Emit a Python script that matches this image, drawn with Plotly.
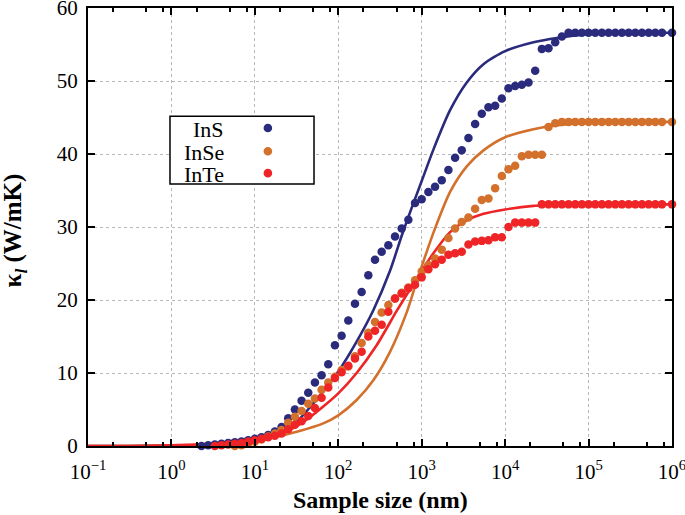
import plotly.graph_objects as go

# ---------------- data ----------------
# dot positions, log10(sample size / nm)
dot_log_size = [0.36, 0.44, 0.52, 0.60, 0.68, 0.76, 0.84, 0.92, 1.00, 1.08,
                1.16, 1.24, 1.32, 1.40, 1.48, 1.56, 1.64, 1.72, 1.80, 1.88,
                1.96, 2.04, 2.12, 2.20, 2.28, 2.36, 2.44, 2.52, 2.60, 2.68,
                2.76, 2.84, 2.92, 3.00, 3.08, 3.16, 3.24, 3.32, 3.40, 3.48,
                3.56, 3.64, 3.72, 3.80, 3.88, 3.96, 4.04, 4.12, 4.20, 4.28,
                4.36, 4.44, 4.52, 4.60, 4.68, 4.76, 4.84, 4.92, 5.00, 5.08,
                5.16, 5.24, 5.32, 5.40, 5.48, 5.56, 5.64, 5.72, 5.80, 5.88, 6.00]

ins_dots = [0.0, 0.1, 0.2, 0.3, 0.4, 0.5, 0.6, 0.8, 1.0, 1.2,
            1.5, 2.0, 2.6, 3.8, 5.0, 6.2, 7.3, 8.7, 9.7, 11.2,
            13.8, 15.1, 17.2, 19.5, 21.1, 23.4, 25.5, 26.6, 27.5, 28.7,
            29.8, 31.0, 33.3, 33.8, 34.8, 35.5, 36.4, 37.8, 39.5, 40.5,
            42.2, 44.1, 45.5, 46.4, 46.6, 47.6, 49.0, 49.3, 49.5, 49.8,
            51.4, 54.4, 54.5, 55.3, 56.1, 56.6, 56.6, 56.6, 56.6, 56.6,
            56.6, 56.6, 56.6, 56.6, 56.6, 56.6, 56.6, 56.6, 56.6, 56.6, 56.6]

inse_dots = [-0.3, -0.3, -0.2, -0.2, -0.1, 0.0, 0.1, 0.3, 0.6, 0.9,
             1.3, 1.7, 2.2, 3.2, 4.0, 4.8, 5.8, 6.5, 7.7, 8.7,
             9.5, 10.4, 10.9, 12.3, 14.1, 15.5, 17.0, 18.3, 19.3, 20.2,
             21.0, 21.7, 22.7, 23.9, 24.8, 25.7, 26.9, 28.5, 29.8, 30.7,
             31.3, 32.5, 33.7, 33.9, 35.3, 37.0, 37.9, 38.4, 39.7, 39.9,
             39.9, 39.9, 43.7, 44.2, 44.4, 44.4, 44.4, 44.4, 44.4, 44.4,
             44.4, 44.4, 44.4, 44.4, 44.4, 44.4, 44.4, 44.4, 44.4, 44.4, 44.4]

inte_dots = [-0.1, -0.1, 0.0, 0.1, 0.2, 0.3, 0.4, 0.6, 0.8, 1.0,
             1.2, 1.4, 1.7, 2.3, 2.9, 3.4, 4.1, 5.2, 6.6, 8.0,
             9.3, 10.1, 11.0, 12.0, 12.9, 15.0, 15.8, 16.6, 18.4, 20.2,
             20.9, 21.6, 22.1, 23.1, 24.2, 24.9, 25.5, 26.2, 26.4, 26.6,
             27.6, 28.0, 28.1, 28.2, 28.6, 28.6, 30.0, 30.6, 30.6, 30.6,
             30.6, 33.1, 33.1, 33.1, 33.1, 33.1, 33.1, 33.1, 33.1, 33.1,
             33.1, 33.1, 33.1, 33.1, 33.1, 33.1, 33.1, 33.1, 33.1, 33.1, 33.1]

# fitted curves: (log10 size, kappa)
ins_line_log = [-1.0, -0.5, 0.0, 0.5, 1.0, 1.3, 1.5, 1.66, 1.82, 2.0, 2.22, 2.42,
                2.62, 2.76, 2.86, 3.0, 3.14, 3.34, 3.54, 3.74, 4.0, 4.34, 4.62,
                5.0, 5.5, 6.0]
ins_line_k = [0.0, 0.0, 0.05, 0.25, 0.8, 1.8, 3.3, 5.3, 7.5, 10.2, 14.3, 18.6,
              24.0, 28.8, 32.0, 36.3, 40.6, 46.0, 49.8, 52.3, 54.1, 55.3, 55.9,
              56.4, 56.6, 56.6]

inse_line_log = [-1.0, -0.5, 0.0, 0.5, 1.0, 1.42, 1.82, 2.0, 2.22, 2.42, 2.62,
                 2.82, 2.93, 3.0, 3.14, 3.34, 3.54, 3.74, 4.0, 4.34, 4.6,
                 5.0, 5.5, 6.0]
inse_line_k = [0.0, 0.0, 0.05, 0.2, 0.6, 1.7, 3.1, 4.2, 6.3, 9.0, 12.9,
               18.3, 22.2, 24.6, 29.2, 34.8, 38.3, 40.5, 42.3, 43.4, 43.9,
               44.3, 44.4, 44.4]

inte_line_log = [-1.0, -0.5, 0.0, 0.5, 1.0, 1.2, 1.42, 1.62, 1.82, 2.0, 2.22,
                 2.46, 2.70, 2.90, 3.0, 3.14, 3.34, 3.54, 3.74, 4.0, 4.34,
                 4.7, 5.2, 6.0]
inte_line_k = [0.0, 0.0, 0.1, 0.3, 0.8, 1.2, 2.2, 3.6, 5.4, 7.2, 10.0,
               13.8, 18.5, 22.2, 24.0, 26.4, 29.3, 30.9, 31.8, 32.4, 32.9,
               33.05, 33.1, 33.1]

series_names = ["InS", "InSe", "InTe"]
series_colors = ["#2a2b7c", "#d2702c", "#ee2426"]

x_major = [0.1, 1, 10, 100, 1000, 10000, 100000, 1000000]
x_major_text = ["10<sup>−1</sup>", "10<sup>0</sup>", "10<sup>1</sup>", "10<sup>2</sup>",
                "10<sup>3</sup>", "10<sup>4</sup>", "10<sup>5</sup>", "10<sup>6</sup>"]
x_minor = [0.2, 0.5, 0.8, 2, 5, 8, 20, 50, 80, 200, 500, 800,
           2000, 5000, 8000, 20000, 50000, 80000, 200000, 500000, 800000]

# ---------------- figure ----------------
fig = go.Figure()

line_sets = [(ins_line_log, ins_line_k), (inse_line_log, inse_line_k), (inte_line_log, inte_line_k)]
dot_sets = [ins_dots, inse_dots, inte_dots]

for (lx, ly), c in zip(line_sets, series_colors):
    fig.add_trace(go.Scatter(x=[10 ** v for v in lx], y=ly, mode="lines",
                             line=dict(color=c, width=2.6, shape="spline", smoothing=0.7),
                             showlegend=False, cliponaxis=False, hoverinfo="skip"))

sizes_nm = [10 ** v for v in dot_log_size]
for name, dy, c in zip(series_names, dot_sets, series_colors):
    fig.add_trace(go.Scatter(x=sizes_nm, y=dy, mode="markers", name=name,
                             marker=dict(color=c, size=8.5, line=dict(width=0)),
                             showlegend=False, cliponaxis=False))

serif = "Liberation Serif, Times New Roman, serif"

# manual legend (text left, symbol right, like the original)
x0p, x1p, y0p, y1p = 0.1404, 0.387, 0.598, 0.753
fig.add_shape(type="rect", xref="paper", yref="paper", x0=x0p, x1=x1p, y0=y0p, y1=y1p,
              line=dict(color="black", width=1.5), fillcolor="white", layer="above")
leg_y = [0.722, 0.669, 0.619]
for name, c, yy in zip(series_names, series_colors, leg_y):
    fig.add_annotation(xref="paper", yref="paper", x=0.236, y=yy, text=name,
                       showarrow=False, xanchor="right", yanchor="middle",
                       font=dict(family=serif, size=22, color="black"))
    fig.add_shape(type="circle", xref="paper", yref="paper", xsizemode="pixel",
                  ysizemode="pixel", xanchor=0.308, yanchor=yy + 0.004,
                  x0=-4.3, x1=4.3, y0=-4.3, y1=4.3,
                  fillcolor=c, line=dict(width=0), layer="above")

# axis titles
fig.add_annotation(xref="paper", yref="paper", x=0.5, y=-0.123, text="<b>Sample size (nm)</b>",
                   showarrow=False, xanchor="center", yanchor="middle",
                   font=dict(family=serif, size=24, color="black"))
fig.add_annotation(xref="paper", yref="paper", x=-0.125, y=0.492,
                   text="<b>κ<sub><i>l</i></sub> (W/mK)</b>", textangle=-90,
                   showarrow=False, xanchor="center", yanchor="middle",
                   font=dict(family=serif, size=25, color="black"))

axis_common = dict(showline=True, linecolor="black", linewidth=2, mirror="allticks",
                   ticks="inside", tickcolor="black", tickwidth=1.5, ticklen=7,
                   gridcolor="#b8b8b8", griddash="dot", gridwidth=1, zeroline=False,
                   automargin=False, ticklabeloverflow="allow",
                   tickfont=dict(family=serif, size=21, color="black"))

fig.update_xaxes(type="log", range=[-1, 6], tickmode="array", tickvals=x_major,
                 ticktext=x_major_text, ticklabelstandoff=6,
                 minor=dict(tickvals=x_minor, ticks="inside", ticklen=4, tickcolor="black",
                            tickwidth=1.5, showgrid=False),
                 **axis_common)
fig.update_yaxes(range=[0, 60], dtick=10, ticklabelstandoff=4, **axis_common)

fig.update_layout(width=685, height=515, margin=dict(l=88, r=13, t=8, b=69),
                  paper_bgcolor="white", plot_bgcolor="white", showlegend=False)

fig.write_html("out.html", config={"displayModeBar": False},
               post_script="document.body.style.margin='0';")
